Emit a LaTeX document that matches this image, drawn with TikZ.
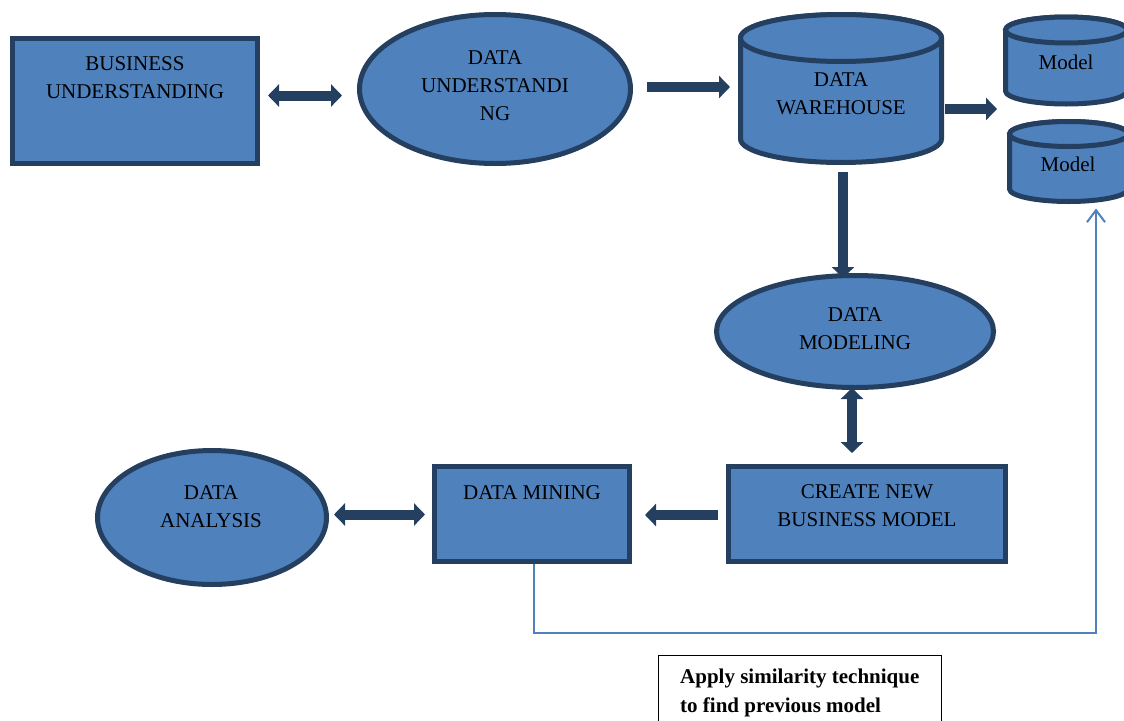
\documentclass[tikz,border=0pt]{standalone}
\usepackage{fontspec}
\setmainfont{Liberation Serif}
\usetikzlibrary{arrows.meta,calc,shapes.geometric}
\definecolor{fillc}{RGB}{79,129,189}
\definecolor{edgec}{RGB}{36,63,96}
\definecolor{linec}{RGB}{79,129,189}
\tikzset{
  shp/.style={fill=fillc,draw=edgec,line width=5pt,inner sep=0pt,outer sep=0pt},
  boxshape/.style={shp,rectangle},
  ellshape/.style={shp,ellipse},
  ghost/.style={inner sep=0pt,outer sep=0pt,rectangle},
  txt/.style={font=\fontsize{21}{28}\selectfont,align=center,inner sep=0pt,text=black,yshift=-1.5pt},
  blk/.style={draw=edgec,line width=10pt,-{Triangle[width=22pt,length=11pt]}},
  dblk/.style={draw=edgec,line width=10pt,{Triangle[width=22pt,length=11pt]}-{Triangle[width=22pt,length=11pt]}},
  fb/.style={draw=linec,line width=2pt,-{Straight Barb[length=12pt,width=18pt,line width=2pt]}},
  notebox/.style={draw=black,line width=1.5pt,rectangle,inner sep=0pt,outer sep=0pt}
}
\newcommand{\cylpath}[6]{% x1 x2 ytop ybot rx ry
  \filldraw[shp] (#1,#3) -- (#1,#4) arc[start angle=180,end angle=0,x radius=#5,y radius=#6]
    -- (#2,#3) arc[start angle=0,end angle=-180,x radius=#5,y radius=#6] -- cycle;
  \draw[shp] ({(#1+#2)/2},#3) ellipse[x radius=#5,y radius=#6];
}
\begin{document}
\begin{tikzpicture}[x=1pt,y=-1pt]
\useasboundingbox (0,0) rectangle (1124,720);

% shapes
\node[boxshape,minimum width=245pt,minimum height=125pt] (bu) at (135,101) {};
\node[txt] (butext) at (135,76) {BUSINESS\\UNDERSTANDING};

\node[ellshape,minimum width=271pt,minimum height=149pt] (du) at (495,89) {};
\node[txt] (dutext) at (495,84) {DATA\\UNDERSTANDI\\NG};

\cylpath{740.5}{941.5}{38}{139}{100.5}{23.5}
\node[ghost,minimum width=201pt,minimum height=153pt] (dw) at (841,88.5) {};
\node[txt] (dwtext) at (841,92) {DATA\\WAREHOUSE};

\cylpath{1005.5}{1127}{30}{91}{60.75}{13}
\node[ghost,minimum width=121.5pt,minimum height=92pt] (m1) at (1066.25,60.5) {};
\node[txt] (m1text) at (1066,61) {Model};

\cylpath{1009.5}{1128}{134}{189}{59.25}{12.5}
\node[ghost,minimum width=118.5pt,minimum height=85pt] (m2) at (1068.75,161.5) {};
\node[txt] (m2text) at (1068,163) {Model};

\node[ellshape,minimum width=277pt,minimum height=112pt] (dmod) at (855,331.5) {};
\node[txt] (dmodtext) at (855,327) {DATA\\MODELING};

\node[boxshape,minimum width=277pt,minimum height=95pt] (cnbm) at (867,514) {};
\node[txt] (cnbmtext) at (867,504) {CREATE NEW\\BUSINESS MODEL};

\node[boxshape,minimum width=195pt,minimum height=95pt] (dmin) at (532,514) {};
\node[txt] (dmintext) at (532,491) {DATA MINING};

\node[ellshape,minimum width=229pt,minimum height=134pt] (da) at (212,517.5) {};
\node[txt] (datext) at (211,505) {DATA\\ANALYSIS};

\node[notebox,minimum width=283pt,minimum height=80pt] (note) at (800,695.5) {};
\node[txt,align=left,anchor=west,font=\fontsize{21}{29}\selectfont\bfseries] (notetext) at (680,691.5) {Apply similarity technique\\to find previous model};

% connectors
\draw[dblk] ($(bu.east)+(10.5,-5.5)$) -- ($(du.west)+(-17.5,6.5)$);
\draw[blk] ($(du.east)+(16.5,-2)$) -- ($(dw.west)+(-10.5,-1.5)$);
\draw[blk] ($(dw.east)+(3.5,20.5)$) -- ($(m1.west)+(-8.5,48.5)$);
\draw[blk] ($(dw.south)+(2,7)$) -- ($(dmod.north)+(-12,2.5)$);
\draw[dblk] ($(dmod.south)+(-3,0.5)$) -- ($(cnbm.north)+(-15,-13.5)$);
\draw[blk] ($(cnbm.west)+(-10.5,1)$) -- ($(dmin.east)+(15.5,1)$);
\draw[dblk] ($(da.east)+(7.5,-3)$) -- ($(dmin.west)+(-9.5,0.5)$);
\draw[fb] ($(dmin.south)+(2,2.5)$) -- ++(0,69) -| ($(m2.south)+(27.25,4.5)$);
\end{tikzpicture}
\end{document}
